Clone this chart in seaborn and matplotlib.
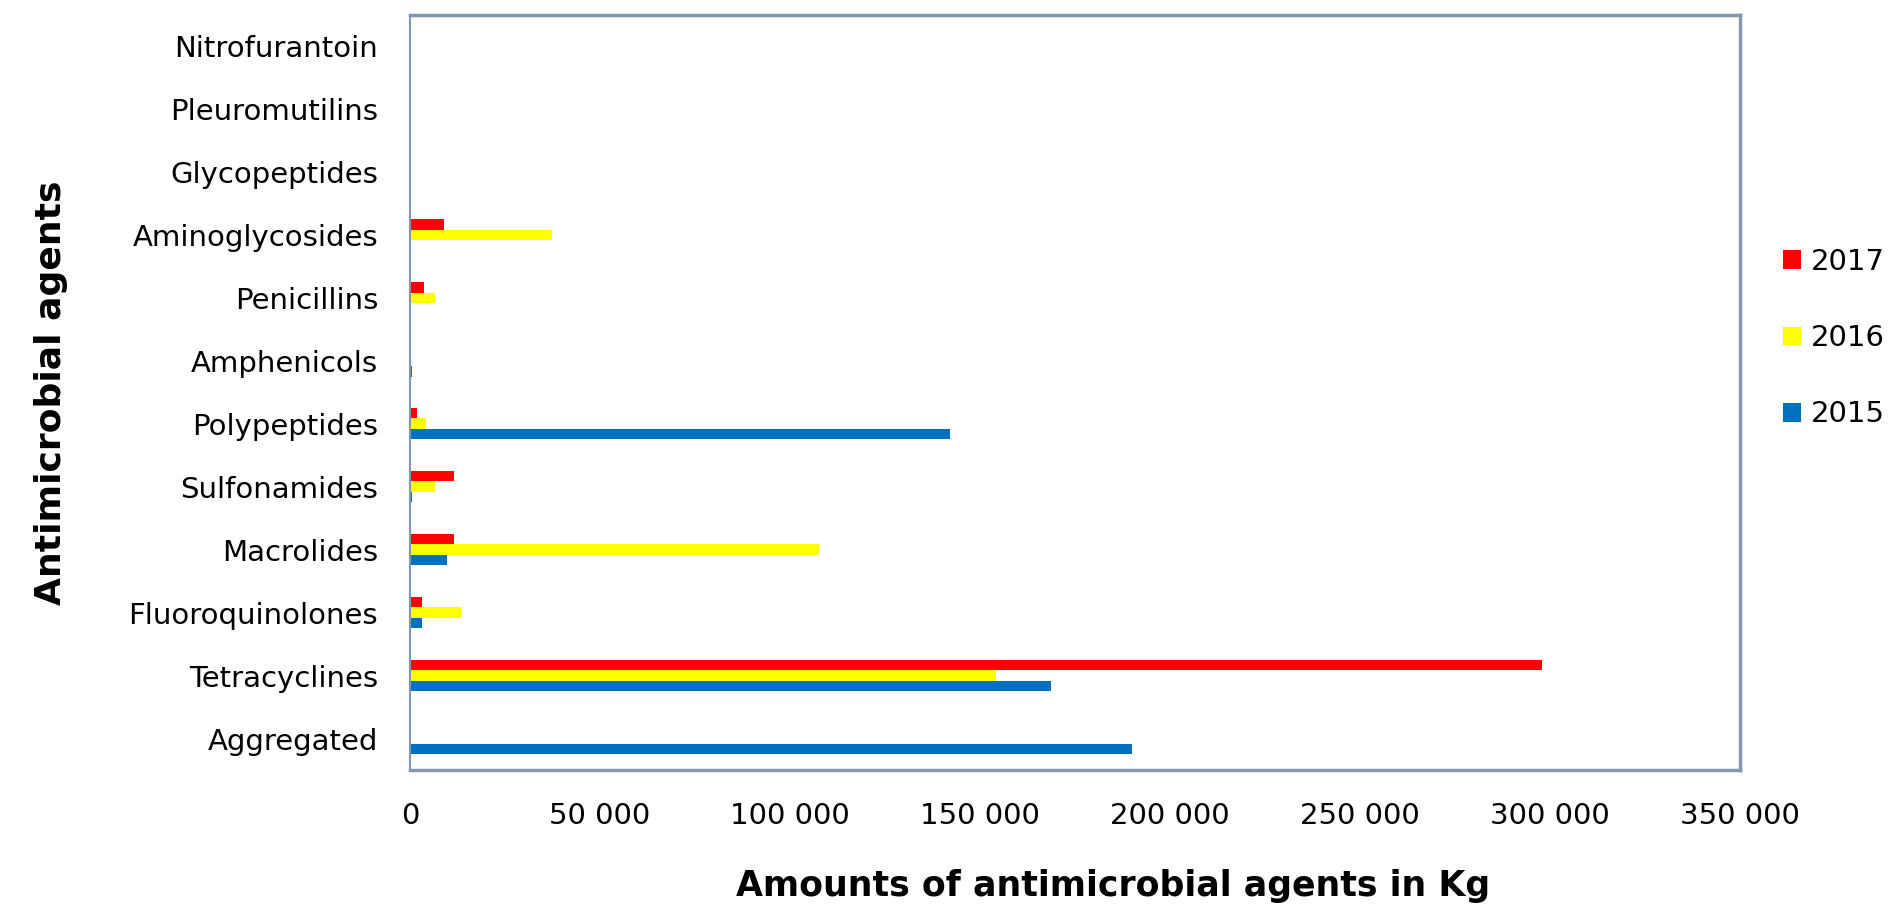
import matplotlib
matplotlib.use("Agg")
import matplotlib.pyplot as plt
import seaborn as sns
import pandas as pd
from matplotlib.ticker import FuncFormatter
from matplotlib.patches import Patch

categories = ["Nitrofurantoin", "Pleuromutilins", "Glycopeptides", "Aminoglycosides",
              "Penicillins", "Amphenicols", "Polypeptides", "Sulfonamides", "Macrolides",
              "Fluoroquinolones", "Tetracyclines", "Aggregated"]
years = ["2017", "2016", "2015"]
values_2017 = [0, 0, 0, 8950, 3600, 0, 1850, 11600, 11700, 3050, 297900, 0]
values_2016 = [300, 0, 0, 37300, 6600, 0, 4200, 6600, 107700, 13500, 154300, 0]
values_2015 = [0, 0, 0, 0, 0, 600, 142200, 600, 9700, 3050, 168700, 190100]
xticks = [0, 50000, 100000, 150000, 200000, 250000, 300000, 350000]
colors = {"2017": "#FF0000", "2016": "#FFFF00", "2015": "#0070C0"}

rows = []
for y, vals in zip(years, [values_2017, values_2016, values_2015]):
    for c, v in zip(categories, vals):
        rows.append({"agent": c, "year": y, "amount": v})
df = pd.DataFrame(rows)

sns.set_theme(style="white")
plt.rcParams['font.family'] = ['DejaVu Sans']
plt.rcParams['text.color'] = 'black'
plt.rcParams['xtick.color'] = 'black'
plt.rcParams['ytick.color'] = 'black'
plt.rcParams['axes.labelcolor'] = 'black'

fig = plt.figure(figsize=(18.98, 9.08), dpi=100)
ax = fig.add_axes([0.216, 0.152, 0.7005, 0.832])

sns.barplot(data=df, y="agent", x="amount", hue="year", order=categories,
            hue_order=years, palette=colors, orient="h", width=0.5,
            saturation=1, legend=False, ax=ax, errorbar=None, linewidth=0)

ax.set_xlim(0, 350000)
ax.set_ylim(len(categories) - 0.5, -0.5)
ax.set_xticks(xticks)
ax.xaxis.set_major_formatter(FuncFormatter(lambda v, p: f"{int(v):,}".replace(",", " ")))
ax.tick_params(axis="x", labelsize=21, pad=23, length=0)
ax.tick_params(axis="y", labelsize=21, pad=23, length=0)
ax.set_xlabel("Amounts of antimicrobial agents in Kg", fontsize=25, fontweight="bold", va="center")
ax.set_ylabel("Antimicrobial agents", fontsize=26, fontweight="bold", va="center")
ax.xaxis.set_label_coords(0.529, -0.153)
ax.yaxis.set_label_coords(-0.27, 0.5)

frame_col = "#8497B0"
for side in ["top", "right", "bottom"]:
    ax.spines[side].set_color(frame_col)
    ax.spines[side].set_linewidth(2.5)
ax.spines["left"].set_color(frame_col)
ax.spines["left"].set_linewidth(1.5)

handles = [Patch(facecolor=colors[y], edgecolor="none", label=y) for y in years]
fig.legend(handles=handles, loc="center left", bbox_to_anchor=(0.9394, 0.6275),
           frameon=False, fontsize=21, handlelength=0.62, handleheight=0.62,
           handletextpad=0.35, labelspacing=1.65, borderpad=0, borderaxespad=0)

fig.savefig("out.png", dpi=100)
